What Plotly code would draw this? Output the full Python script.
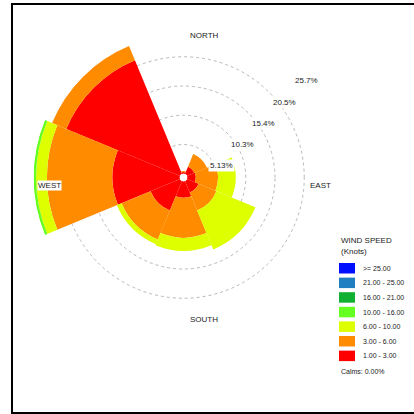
import math
import plotly.graph_objects as go

# ---- data (percent frequency per direction and speed class) ----
directions = [0, 45, 90, 135, 180, 225, 270, 315]  # N, NE, E, SE, S, SW, W, NW
speed_bins = ["1.00 - 3.00", "3.00 - 6.00", "6.00 - 10.00", "10.00 - 16.00",
              "16.00 - 21.00", "21.00 - 25.00", ">= 25.00"]
bin_colors = ["#FF0000", "#FF8C00", "#DDFF00", "#66FF22", "#10B030", "#1F7FC0", "#0010FF"]

s_1_3 = [0.3, 1.4, 1.5, 2.2, 2.9, 5.6, 11.8, 21.6]
s_3_6 = [0.2, 2.4, 3.9, 3.4, 7.0, 5.5, 11.5, 2.7]
s_6_10 = [0.0, 0.0, 3.1, 7.4, 2.3, 0.9, 1.9, 0.0]
s_10_16 = [0.0, 0.0, 0.0, 0.0, 0.0, 0.0, 0.45, 0.0]
s_16_21 = [0, 0, 0, 0, 0, 0, 0, 0]
s_21_25 = [0, 0, 0, 0, 0, 0, 0, 0]
s_25_up = [0, 0, 0, 0, 0, 0, 0, 0]
series = [s_1_3, s_3_6, s_6_10, s_10_16, s_16_21, s_21_25, s_25_up]

ring_vals = [5.13, 10.26, 15.39, 20.52, 25.65]
ring_text = ["5.13%", "10.3%", "15.4%", "20.5%", "25.7%"]
compass = ["NORTH", "EAST", "SOUTH", "WEST"]
legend_title = ["WIND SPEED", "(Knots)"]
calms_text = "Calms: 0.00%"

W = H = 414
cx, cy, R = 183.5, 177.5, 150.0
rmax = ring_vals[-1]

def px(x):
    return x / W

def py(y):
    return 1 - y / H

fig = go.Figure()
for name, vals, col in zip(speed_bins, series, bin_colors):
    fig.add_trace(go.Barpolar(
        r=vals, theta=directions, width=[45] * len(directions),
        name=name, marker=dict(color=col, line=dict(width=0)), showlegend=False,
    ))

font = dict(family="Liberation Sans, Arial, sans-serif", size=8, color="#222222")
lfont = dict(family="Liberation Sans, Arial, sans-serif", size=7, color="#222222")

annotations = []
shapes = []
# ring labels along the NE diagonal
for v, t in zip(ring_vals, ring_text):
    rr = v / rmax * R
    x = cx + rr * math.sin(math.radians(45)) + 3
    y = cy - rr * math.cos(math.radians(45)) + 3
    annotations.append(dict(x=px(x), y=py(y), xref="paper", yref="paper", text=t,
                            showarrow=False, xanchor="left", yanchor="top",
                            bgcolor="white", font=font, borderpad=1))
# compass labels
annotations.append(dict(x=px(cx + 4), y=py(cy - R + 2), xref="paper", yref="paper", text=compass[0],
                        showarrow=False, xanchor="left", yanchor="top", font=font, bgcolor="white"))
annotations.append(dict(x=px(cx + R - 1), y=py(cy + 2), xref="paper", yref="paper", text=compass[1],
                        showarrow=False, xanchor="right", yanchor="top", font=font, bgcolor="white"))
annotations.append(dict(x=px(cx + 4), y=py(cy + R - 2), xref="paper", yref="paper", text=compass[2],
                        showarrow=False, xanchor="left", yanchor="bottom", font=font, bgcolor="white"))
annotations.append(dict(x=px(cx - R + 3), y=py(cy + 3), xref="paper", yref="paper", text=compass[3],
                        showarrow=False, xanchor="left", yanchor="top", font=font, bgcolor="white",
                        borderpad=0))

# manual legend (compact, like the reference)
lx, ly_title = 339, 234
annotations.append(dict(x=px(lx), y=py(ly_title), xref="paper", yref="paper", text=legend_title[0],
                        showarrow=False, xanchor="left", yanchor="top", font=font))
annotations.append(dict(x=px(lx), y=py(ly_title + 11), xref="paper", yref="paper", text=legend_title[1],
                        showarrow=False, xanchor="left", yanchor="top", font=font))
row0, step = 263, 14.6
for i, (name, col) in enumerate(zip(reversed(speed_bins), reversed(bin_colors))):
    top = row0 + i * step
    shapes.append(dict(type="rect", xref="paper", yref="paper",
                       x0=px(lx), x1=px(lx + 16), y0=py(top + 10.5), y1=py(top),
                       fillcolor=col, line=dict(width=0)))
    annotations.append(dict(x=px(lx + 22), y=py(top + 5.2), xref="paper", yref="paper", text=name,
                            showarrow=False, xanchor="left", yanchor="middle", font=lfont))
annotations.append(dict(x=px(lx), y=py(366), xref="paper", yref="paper", text=calms_text,
                        showarrow=False, xanchor="left", yanchor="top", font=lfont))

shapes.append(dict(type="rect", xref="paper", yref="paper",
                   x0=px(12), x1=px(430), y0=py(413), y1=py(4),
                   line=dict(color="black", width=2)))

fig.update_layout(
    width=W, height=H,
    margin=dict(l=0, r=0, t=0, b=0),
    paper_bgcolor="white", plot_bgcolor="white",
    font=font,
    barmode="stack",
    showlegend=False,
    polar=dict(
        domain=dict(x=[px(cx - R), px(cx + R)], y=[py(cy + R), py(cy - R)]),
        bgcolor="white",
        hole=0.025,
        radialaxis=dict(range=[0, rmax], tickvals=ring_vals, showticklabels=False,
                        showline=False, ticks="", gridcolor="#b8b8b8", griddash="dot",
                        gridwidth=1),
        angularaxis=dict(rotation=90, direction="clockwise", showgrid=False,
                         showline=False, showticklabels=False, ticks=""),
    ),
    annotations=annotations,
    shapes=shapes,
)

fig.write_html("out.html", config={"displayModeBar": False},
               post_script="document.body.style.margin='0';document.body.style.overflow='hidden';")
